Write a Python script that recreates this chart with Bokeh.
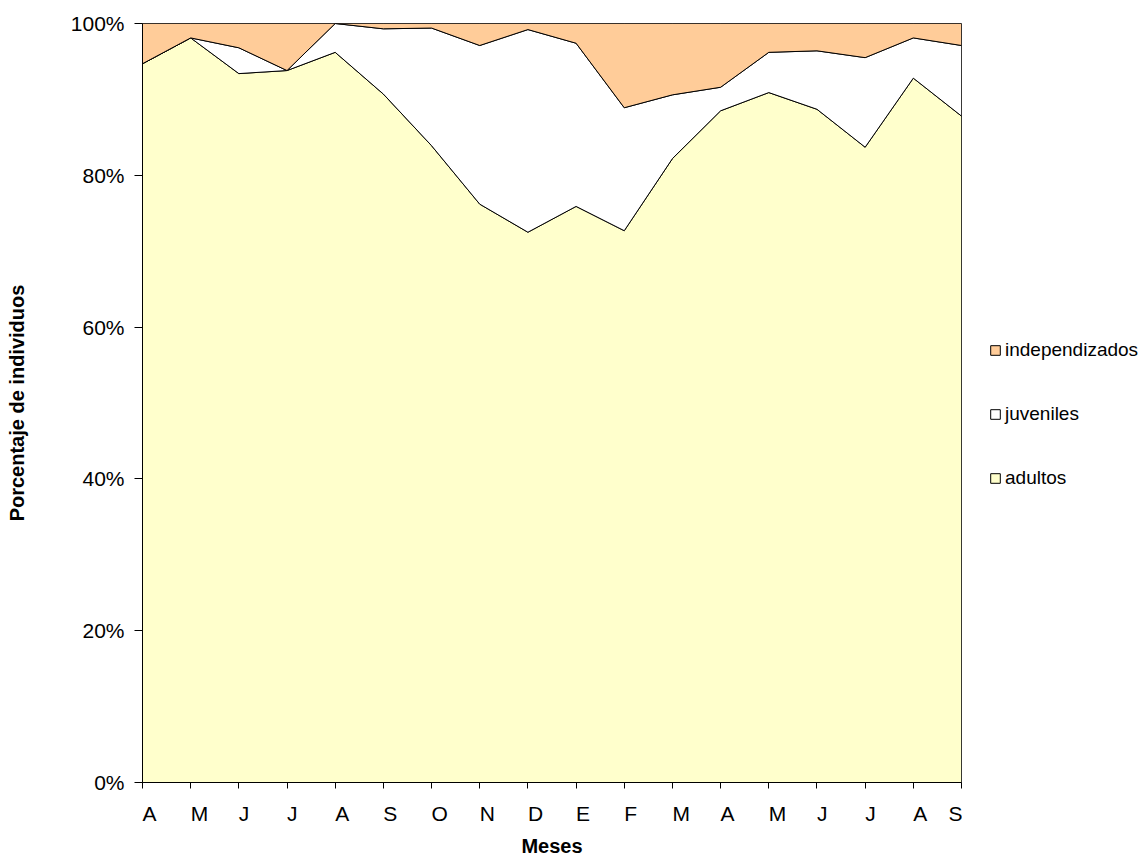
from bokeh.plotting import figure
from bokeh.layouts import row
from bokeh.models import (Range1d, FixedTicker, NumeralTickFormatter,
                          Legend, LegendItem)
from bokeh.embed import file_html
from bokeh.resources import INLINE

# ---- data (percent of individuals per month) ----
meses = ["A", "M", "J", "J", "A", "S", "O", "N", "D", "E", "F", "M", "A", "M", "J", "J", "A", "S"]
adultos = [94.7, 98.1, 93.4, 93.8, 96.2, 90.7, 83.9, 76.2, 72.5, 75.9, 72.7, 82.2, 88.5, 90.9, 88.7, 83.7, 92.8, 87.8]
juveniles = [0.0, 0.0, 3.4, 0.0, 3.8, 8.6, 15.5, 20.9, 26.7, 21.5, 16.2, 8.4, 3.1, 5.3, 7.7, 11.8, 5.3, 9.3]
independizados = [5.3, 1.9, 3.2, 6.2, 0.0, 0.7, 0.6, 2.9, 0.8, 2.6, 11.1, 9.4, 8.4, 3.8, 3.6, 4.5, 1.9, 2.9]
series_names = ["adultos", "juveniles", "independizados"]
series_colors = ["#FFFFCC", "#FFFFFF", "#FFCC99"]
y_ticks = [0, 0.2, 0.4, 0.6, 0.8, 1.0]

FONT = "Liberation Sans"
TICK_FS = "21px"
TITLE_FS = "20px"
LEG_FS = "19px"

n = len(meses)
x = list(range(n))
tot = [a + j + i for a, j, i in zip(adultos, juveniles, independizados)]
c1 = [a / t for a, t in zip(adultos, tot)]
c2 = [(a + j) / t for a, j, t in zip(adultos, juveniles, tot)]
c3 = [(a + j + i) / t for a, j, i, t in zip(adultos, juveniles, independizados, tot)]
xs = x + x[::-1]
polys = [c1 + [0] * n, c2 + c1[::-1], c3 + c2[::-1]]

p = figure(width=962, height=859, x_range=Range1d(0, n - 1), y_range=Range1d(0, 1),
           output_backend="svg", toolbar_location=None,
           min_border_left=142, min_border_right=1, min_border_top=23, min_border_bottom=77)
p.xgrid.visible = False
p.ygrid.visible = False
p.outline_line_color = "#404040"
p.background_fill_color = "white"

for ys, col in zip(polys, series_colors):
    p.patch(xs, ys, fill_color=col, line_color="black", line_width=1)

# y axis
ya = p.yaxis[0]
ya.ticker = FixedTicker(ticks=y_ticks)
ya.formatter = NumeralTickFormatter(format="0%")
ya.major_tick_out = 8
ya.major_tick_in = 0
ya.minor_tick_line_color = None
ya.axis_line_color = "black"
ya.major_tick_line_color = "black"
ya.major_label_standoff = 10
ya.major_label_text_font = FONT
ya.major_label_text_font_size = TICK_FS
ya.major_label_text_color = "black"
ya.axis_label = "Porcentaje de individuos"
ya.axis_label_text_font = FONT
ya.axis_label_text_font_size = TITLE_FS
ya.axis_label_text_font_style = "bold"
ya.axis_label_text_color = "black"
ya.axis_label_standoff = 40

# x axis: month labels start just right of each tick mark (left-aligned, as in the original)
xa = p.xaxis[0]
xa.ticker = FixedTicker(ticks=x)
xa.major_label_overrides = {i: m for i, m in enumerate(meses)}
xa.major_label_orientation = -0.0001
xa.major_tick_out = 6
xa.major_tick_in = 0
xa.minor_tick_line_color = None
xa.major_tick_line_color = "black"
xa.axis_line_color = "black"
xa.major_label_standoff = 25
xa.major_label_text_font = FONT
xa.major_label_text_font_size = TICK_FS
xa.major_label_text_color = "black"
xa.axis_label = "Meses"
xa.axis_label_text_font = FONT
xa.axis_label_text_font_size = TITLE_FS
xa.axis_label_text_font_style = "bold"
xa.axis_label_text_color = "black"
xa.axis_label_standoff = -5

# legend lives in a narrow companion figure to the right of the chart;
# its swatch renderers use the same data but lie outside that figure's view
q = figure(width=178, height=859, x_range=Range1d(n, n + 1), y_range=Range1d(0, 1),
           output_backend="svg", toolbar_location=None, x_axis_location=None,
           y_axis_location=None, min_border=0)
q.xgrid.visible = False
q.ygrid.visible = False
q.outline_line_color = None
leg_r = {}
for name, ys, col in zip(series_names, polys, series_colors):
    leg_r[name] = q.patch(xs, ys, fill_color=col, line_color="black", line_width=1)

legend = Legend(items=[LegendItem(label=name, renderers=[leg_r[name]])
                       for name in reversed(series_names)],
                location=(27, 293))
legend.padding = 0
legend.margin = 0
legend.border_line_color = None
legend.background_fill_alpha = 0
legend.label_text_font = FONT
legend.label_text_font_size = LEG_FS
legend.label_text_color = "black"
legend.glyph_width = 12
legend.glyph_height = 12
legend.label_standoff = 4
legend.label_height = 22
legend.spacing = 42
q.add_layout(legend)

layout = row(p, q, spacing=0)
open("out.html", "w").write(file_html(layout, INLINE))
